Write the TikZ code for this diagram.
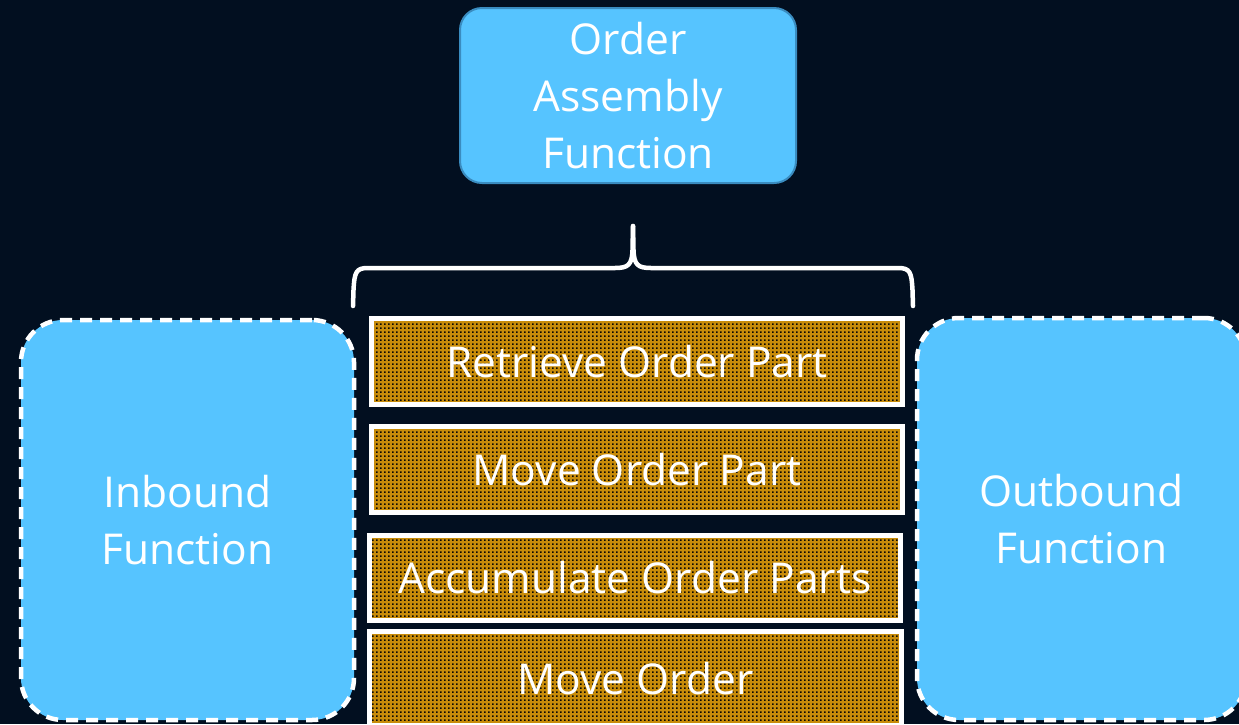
\documentclass[tikz,border=0pt]{standalone}
\usepackage{fontspec}
\setmainfont{Open Sans}
\usetikzlibrary{patterns.meta}

\definecolor{bgc}{RGB}{2,15,32}
\definecolor{skyfill}{RGB}{86,196,255}
\definecolor{skyedge}{RGB}{58,140,192}
\definecolor{goldbase}{RGB}{200,140,10}
\definecolor{dotc}{RGB}{10,8,4}

% fine square-dot screen laid over the gold step boxes
\tikzdeclarepattern{
  name=goldmesh,
  type=uncolored,
  bounding box={(0pt,0pt) and (4pt,4pt)},
  tile size={(4pt,4pt)},
  code={\fill (0pt,0pt) rectangle (2.1pt,2.1pt);}
}

\tikzset{
  labeltext/.style={text=white, align=center,
    font=\fontsize{42.5pt}{57pt}\selectfont},
  topbox/.style={labeltext, rectangle, rounded corners=22pt,
    fill=skyfill, draw=skyedge, line width=2pt, inner sep=0pt},
  sidebox/.style={labeltext, rectangle, rounded corners=42pt,
    fill=skyfill, draw=white, line width=4.5pt,
    dash pattern=on 12pt off 8pt, inner sep=0pt},
  stepbox/.style={labeltext, rectangle, draw=white, line width=5pt,
    preaction={fill=goldbase}, pattern=goldmesh, pattern color=dotc,
    inner sep=0pt},
  bracestroke/.style={draw=white, line width=4.5pt, line cap=round,
    line join=round},
}

\begin{document}
\begin{tikzpicture}[x=1pt, y=-1pt]
  \fill[bgc] (0,0) rectangle (1239,724);
  \useasboundingbox (0,0) rectangle (1239,724);

  % parent function
  \node[topbox, minimum width=336pt, minimum height=175pt]
    (assembly) at (628,95.5) {Order\\Assembly\\Function};

  % neighbouring functions
  \node[sidebox, minimum width=333pt, minimum height=400pt]
    (inbound) at (187.5,520) {Inbound\\Function};
  \node[sidebox, minimum width=329pt, minimum height=402pt]
    (outbound) at (1081.5,519) {Outbound\\Function};

  % steps of the order assembly function
  \node[stepbox, minimum width=531pt, minimum height=86pt]
    (retrieve) at (637,361.5) {Retrieve Order Part};
  \node[stepbox, minimum width=531pt, minimum height=86pt]
    (movepart) at (637,469.5) {Move Order Part};
  \node[stepbox, minimum width=531pt, minimum height=85pt]
    (accumulate) at (635,578) {Accumulate Order Parts};
  \node[stepbox, minimum width=532pt, minimum height=94pt]
    (moveorder) at (635.5,678.5) {Move Order};

  % curly brace grouping the steps under the parent function
  \coordinate (braceL) at (353,306);
  \coordinate (braceR) at (913,306);
  \coordinate (braceTip) at (633,226);
  \draw[bracestroke] (braceL) -- (353.5,290)
    .. controls (354.5,272) and (356,268) .. (368,268) -- (615,268)
    .. controls (628,268) and (632,265) .. (632.5,250) -- (braceTip);
  \draw[bracestroke] (braceR) -- (912.5,290)
    .. controls (911.5,272) and (910,268) .. (898,268) -- (651,268)
    .. controls (638,268) and (634,265) .. (633.5,250) -- (braceTip);
\end{tikzpicture}
\end{document}
